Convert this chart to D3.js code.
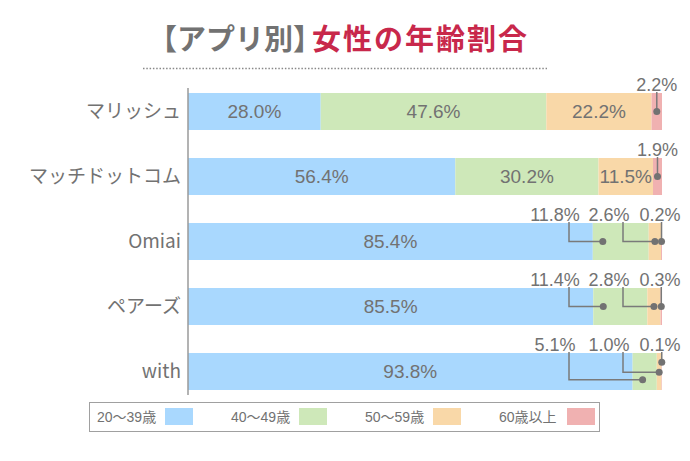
<!DOCTYPE html>
<html>
<head>
<meta charset="utf-8">
<script src="https://cdn.jsdelivr.net/npm/d3@7"></script>
<style>
  body { margin: 0; background: #fff; }
  text { font-family: "Noto Sans CJK JP", "Noto Sans", sans-serif; }
  text.num { font-family: "Liberation Sans", "Noto Sans CJK JP", sans-serif; }
</style>
</head>
<body>
<svg id="chart" width="690" height="461"></svg>
<script>
// data
const apps = ["マリッシュ", "マッチドットコム", "Omiai", "ペアーズ", "with"]
const ages = ["20〜39歳", "40〜49歳", "50〜59歳", "60歳以上"]
const age20s = [28.0, 56.4, 85.4, 85.5, 93.8]
const age40s = [47.6, 30.2, 11.8, 11.4, 5.1]
const age50s = [22.2, 11.5, 2.6, 2.8, 1.0]
const age60s = [2.2, 1.9, 0.2, 0.3, 0.1]
// how many trailing segments per app get their label outside the bar
const outsideCount = [1, 1, 3, 3, 3]

const colors = ["#a9d8fe", "#cee8b9", "#f9d8a8", "#f0b1b1"]
const textColor = "#727272"

// callout layout: label positions for 3-label rows, leader depth inside the bar
const calloutX = [555, 609, 660]
const leaderDepth = [[0.5], [0.5], [0.5, 0.5, 0.5], [0.5, 0.5, 0.5], [0.72, 0.52, 0.25]]

let svg = d3.select("#chart")

let rows = apps.map((a, i) => ({
    app: a,
    values: [age20s[i], age40s[i], age50s[i], age60s[i]]
}))

let x = d3.scaleLinear().domain([0, 100]).range([188, 662])
let y = d3.scaleBand().domain(apps).range([80, 403]).paddingInner(0.4308).paddingOuter(0.2)

let fmt = (v) => v.toFixed(1) + "%"

// title
svg.append("text")
    .attr("x", 148)
    .attr("y", 50)
    .attr("font-size", 29)
    .attr("font-weight", "bold")
    .attr("fill", "#727272")
    .text("【アプリ別】")
svg.append("text")
    .attr("x", 312)
    .attr("y", 50)
    .attr("font-size", 29)
    .attr("font-weight", "bold")
    .attr("letter-spacing", 2)
    .attr("fill", "#c8284b")
    .text("女性の年齢割合")

svg.append("line")
    .attr("x1", 143).attr("x2", 547)
    .attr("y1", 68.5).attr("y2", 68.5)
    .attr("stroke", "#888")
    .attr("stroke-width", 1.5)
    .attr("stroke-dasharray", "1.5,1.8")

// stacked segments
let segs = rows.map((r, i) => {
    let acc = 0
    return r.values.map((v, k) => {
        let s = { app: r.app, row: i, key: k, value: v, x0: acc, x1: acc + v,
                  outside: k >= r.values.length - outsideCount[i] }
        acc += v
        return s
    })
})

svg.append("g").selectAll("g.row")
    .data(segs)
    .join("g")
    .attr("class", "row")
    .selectAll("rect")
    .data(d => d)
    .join("rect")
    .attr("x", d => x(d.x0))
    .attr("y", d => y(d.app))
    .attr("width", d => x(d.x1) - x(d.x0))
    .attr("height", y.bandwidth())
    .attr("fill", d => colors[d.key])

// axis
svg.append("line")
    .attr("x1", 188).attr("x2", 188)
    .attr("y1", 88).attr("y2", 395)
    .attr("stroke", "#9a9a9a")
    .attr("stroke-width", 1.5)

svg.append("g").selectAll("text")
    .data(apps)
    .join("text")
    .attr("x", 181)
    .attr("y", d => y(d) + y.bandwidth() / 2)
    .attr("dy", ".35em")
    .attr("text-anchor", "end")
    .attr("font-size", 19)
    .attr("fill", textColor)
    .text(d => d)

// labels inside segments
svg.append("g").selectAll("text")
    .data(segs.flat().filter(d => !d.outside))
    .join("text")
    .attr("class", "num")
    .attr("x", d => (x(d.x0) + x(d.x1)) / 2)
    .attr("y", d => y(d.app) + y.bandwidth() / 2)
    .attr("dy", ".36em")
    .attr("text-anchor", "middle")
    .attr("font-size", 19)
    .attr("fill", textColor)
    .text(d => fmt(d.value))

// callouts
let cg = svg.append("g")
segs.forEach((r, i) => {
    let small = r.filter(d => d.outside)
    small.forEach((d, j) => {
        let top = y(d.app)
        let mid = (x(d.x0) + x(d.x1)) / 2
        let cx = Math.min(mid, x(d.x0) + 10)
        let single = small.length === 1
        let lx = single ? mid : calloutX[j]
        let vx = single || j === small.length - 1 ? cx : lx + 14
        let ly = top - 2
        let dy = top + y.bandwidth() * leaderDepth[i][j]
        cg.append("text")
            .attr("class", "num")
            .attr("x", lx)
            .attr("y", ly)
            .attr("text-anchor", "middle")
            .attr("font-size", 18)
            .attr("fill", textColor)
            .text(fmt(d.value))
        cg.append("polyline")
            .attr("points", [[vx, ly + 1], [vx, dy], [cx, dy]])
            .attr("fill", "none")
            .attr("stroke", "#7a7a7a")
            .attr("stroke-width", 1.5)
        cg.append("circle")
            .attr("cx", cx)
            .attr("cy", dy)
            .attr("r", 3.5)
            .attr("fill", "#727272")
    })
})

// legend
let lg = svg.append("g")
lg.append("rect")
    .attr("x", 89.5).attr("y", 402.5)
    .attr("width", 510).attr("height", 29)
    .attr("fill", "#fff")
    .attr("stroke", "#a0a0a0")
    .attr("stroke-width", 1)

let item = lg.selectAll("g.item")
    .data(ages)
    .join("g")
    .attr("class", "item")
    .attr("transform", (d, i) => "translate(" + (97 + i * 134) + ",0)")
item.append("text")
    .attr("class", "num")
    .attr("x", 0)
    .attr("y", 417)
    .attr("dy", ".35em")
    .attr("font-size", 14)
    .attr("fill", textColor)
    .text(d => d)
item.append("rect")
    .attr("x", 68).attr("y", 408)
    .attr("width", 28).attr("height", 17)
    .attr("fill", (d, i) => colors[i])
</script>
</body>
</html>
